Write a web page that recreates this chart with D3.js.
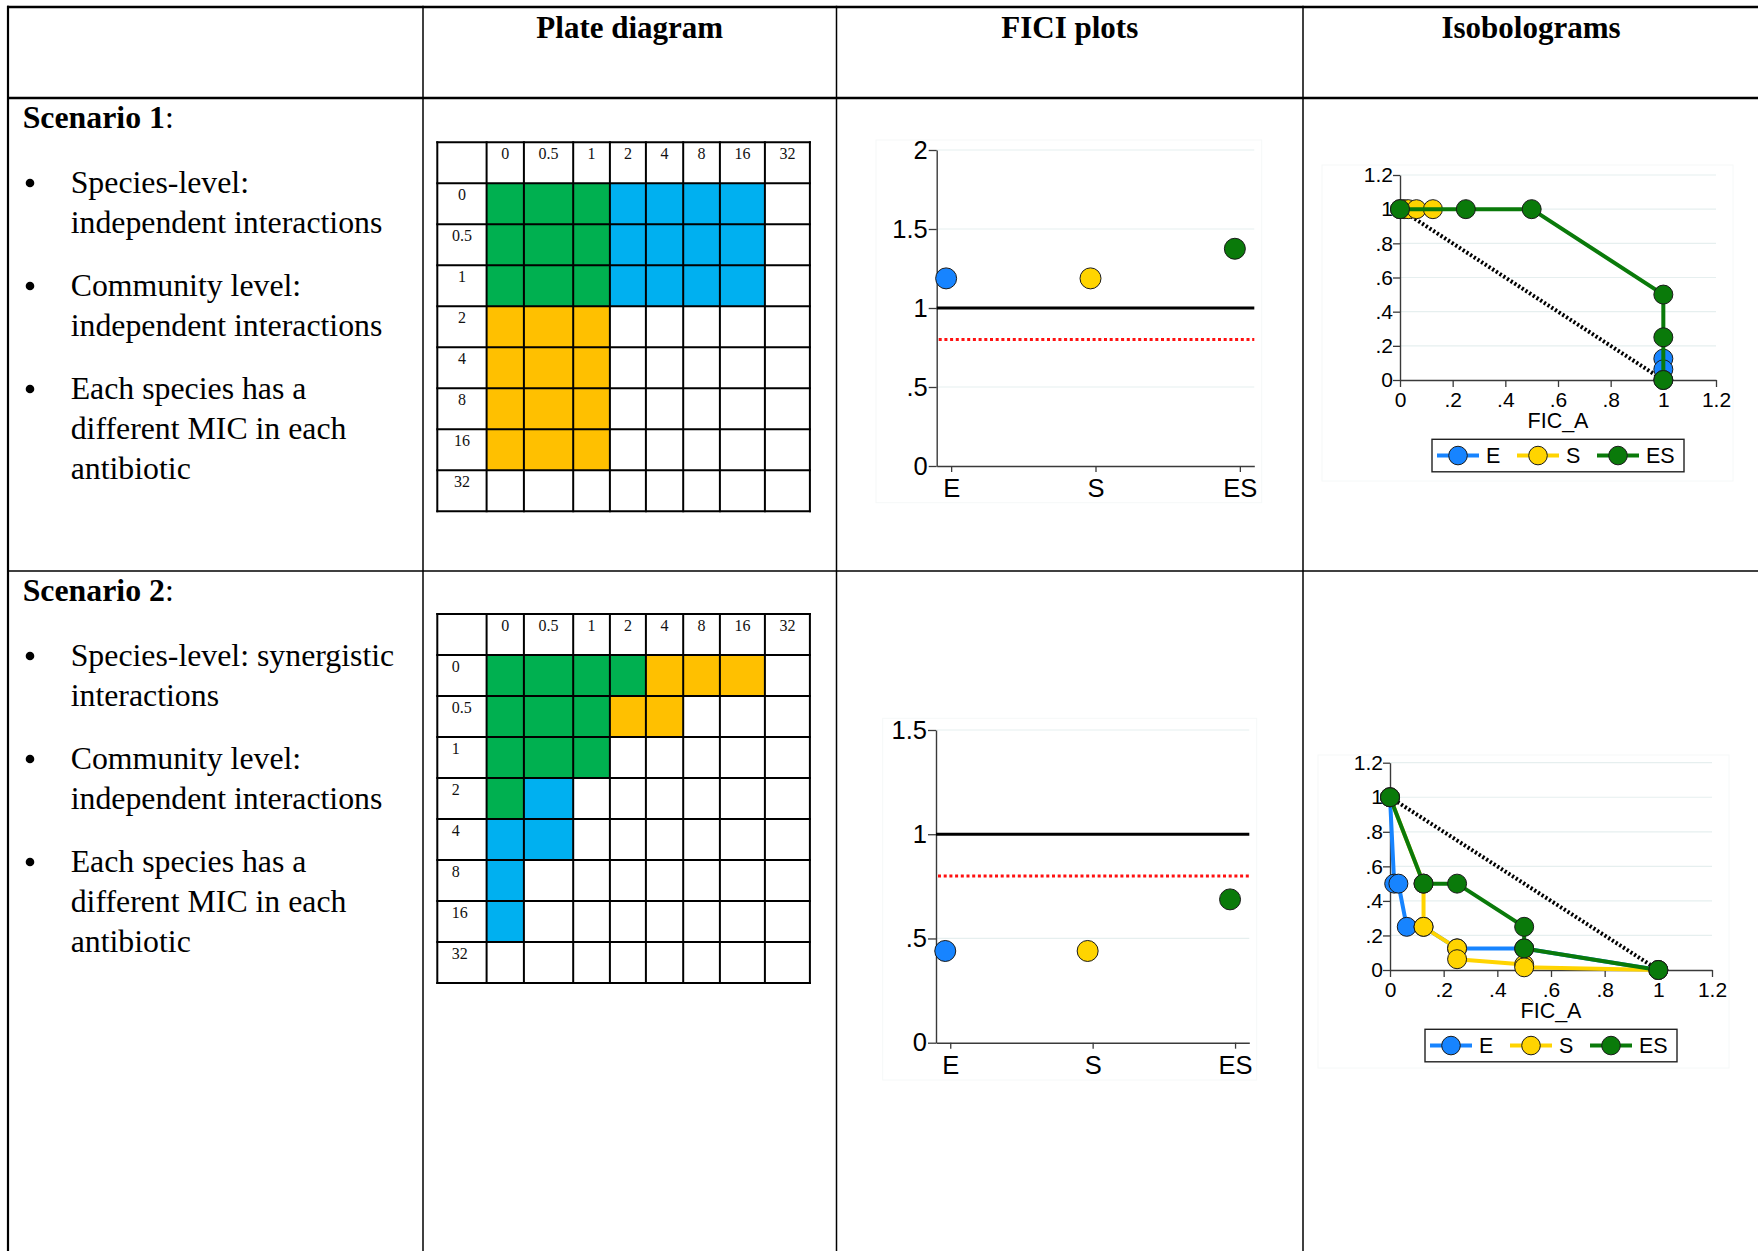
<!DOCTYPE html>
<html>
<head>
<meta charset="utf-8">
<script src="https://cdn.jsdelivr.net/npm/d3@7"></script>
<style>
  html, body { margin: 0; padding: 0; background: #fff; }
  svg { display: block; }
</style>
</head>
<body>
<svg id="fig" width="1758" height="1251"></svg>
<script>
// ---------------- data ----------------
const columnTitles = ["Plate diagram", "FICI plots", "Isobolograms"];
const scenarioTitles = ["Scenario 1", "Scenario 2"];
const scenario1Bullets = [
  ["Species-level:", "independent interactions"],
  ["Community level:", "independent interactions"],
  ["Each species has a", "different MIC in each", "antibiotic"]
];
const scenario2Bullets = [
  ["Species-level: synergistic", "interactions"],
  ["Community level:", "independent interactions"],
  ["Each species has a", "different MIC in each", "antibiotic"]
];

// checkerboard concentrations (columns: antibiotic A, rows: antibiotic B)
const doseLabels = ["0", "0.5", "1", "2", "4", "8", "16", "32"];
// G = both species inhibited (ES), B = E growth only, O = S growth only, . = none
const plateScenario1 = [
  "GGGBBBB.",
  "GGGBBBB.",
  "GGGBBBB.",
  "OOO.....",
  "OOO.....",
  "OOO.....",
  "OOO.....",
  "........"
];
const plateScenario2 = [
  "GGGGOOO.",
  "GGGOO...",
  "GGG.....",
  "GB......",
  "BB......",
  "B.......",
  "B.......",
  "........"
];

// FICI per culture
const speciesGroups = ["E", "S", "ES"];
const ficiScenario1 = [1.1875, 1.1875, 1.375];
const ficiScenario2 = [0.44, 0.44, 0.6875];
const ficiTicks1 = [0, 0.5, 1, 1.5, 2];
const ficiTicks2 = [0, 0.5, 1, 1.5];
const additivityLevel = 1;
const synergyCutoff = 0.8;

// isobolograms: FIC_A (x) vs FIC_B (y)
const isoTicks = [0, 0.2, 0.4, 0.6, 0.8, 1, 1.2];
const iso1E  = { x: [1, 1, 1],                       y: [0.125, 0.0625, 0] };
const iso1S  = { x: [0, 0.015625, 0.03125, 0.0625, 0.125], y: [1, 1, 1, 1, 1] };
const iso1ES = { x: [0, 0.25, 0.5, 1, 1, 1],         y: [1, 1, 1, 0.5, 0.25, 0] };
const iso2E  = { x: [0, 0.015625, 0.03125, 0.0625, 0.125, 0.25, 0.5, 1],
                 y: [1, 0.5, 0.5, 0.25, 0.25, 0.125, 0.125, 0] };
const iso2S  = { x: [0, 0.125, 0.125, 0.25, 0.25, 0.5, 0.5, 1],
                 y: [1, 0.5, 0.25, 0.125, 0.0625, 0.03125, 0.015625, 0] };
const iso2ES = { x: [0, 0.125, 0.25, 0.5, 0.5, 1],   y: [1, 0.5, 0.5, 0.25, 0.125, 0] };

// ---------------- styles ----------------
const SERIF = "'Liberation Serif','Times New Roman',Times,serif";
const SANS = "'Liberation Sans',Arial,Helvetica,sans-serif";
const plateColours = { G: "#00B050", B: "#00B0F0", O: "#FFC000" };
const seriesColours = { E: "#1784FF", S: "#FFD400", ES: "#0A7A0A" };
const gridColour = "#E6EFEF";
const axisColour = "#3a3a3a";

const svg = d3.select("#fig");

// ---------------- table frame ----------------
const colX = [8, 423, 836.5, 1303, 1759];
const rowY = [7, 98, 571, 1262];

const frame = svg.append("g");
frame.selectAll("line.h").data(rowY.slice(0, 3)).join("line")
  .attr("x1", colX[0] - 1).attr("x2", 1758)
  .attr("y1", d => d).attr("y2", d => d)
  .attr("stroke", "#000")
  .attr("stroke-width", (d, i) => i < 2 ? 2.6 : 1.6);
frame.selectAll("line.v").data(colX.slice(0, 4)).join("line")
  .attr("x1", d => d).attr("x2", d => d)
  .attr("y1", rowY[0] - 1.3).attr("y2", 1251)
  .attr("stroke", "#000")
  .attr("stroke-width", (d, i) => i === 0 ? 2.2 : 1.5);

// column headers
svg.append("g").selectAll("text").data(columnTitles).join("text")
  .attr("x", (d, i) => (colX[i + 1] + colX[i + 2]) / 2)
  .attr("y", 38)
  .attr("text-anchor", "middle")
  .attr("font-family", SERIF).attr("font-weight", "bold").attr("font-size", 31)
  .text(d => d);

// ---------------- scenario descriptions ----------------
function drawScenarioText(title, bullets, top) {
  const g = svg.append("g").attr("font-family", SERIF).attr("font-size", 31.8).attr("fill", "#000");
  const head = g.append("text").attr("x", 22.7).attr("y", top + 30);
  head.append("tspan").attr("font-weight", "bold").text(title);
  head.append("tspan").text(":");

  const lineGap = 40.2, bulletGap = 62.8;
  let y = top + 95;
  bullets.forEach((lines, bi) => {
    if (bi > 0) y += bulletGap;
    g.append("circle").attr("cx", 30).attr("cy", y - 10).attr("r", 4.3).attr("fill", "#000");
    lines.forEach((ln, li) => {
      if (li > 0) y += lineGap;
      g.append("text").attr("x", 70.7).attr("y", y).text(ln);
    });
  });
}
drawScenarioText(scenarioTitles[0], scenario1Bullets, rowY[1]);
drawScenarioText(scenarioTitles[1], scenario2Bullets, rowY[2]);

// ---------------- plate diagrams ----------------
const plateColWidths = [49.3, 37.3, 49.3, 36.7, 36, 37.3, 36.7, 45, 45];
const plateRowH = 41;
function drawPlate(fills, left, top, rowLabelAlign) {
  const g = svg.append("g");
  const colEdges = [left];
  plateColWidths.forEach(w => colEdges.push(colEdges[colEdges.length - 1] + w));
  const rowEdges = d3.range(10).map(i => top + i * plateRowH);

  const cells = [];
  fills.forEach((row, r) => row.split("").forEach((code, c) => {
    if (plateColours[code]) cells.push({ r: r + 1, c: c + 1, code });
  }));
  g.selectAll("rect").data(cells).join("rect")
    .attr("x", d => colEdges[d.c]).attr("y", d => rowEdges[d.r])
    .attr("width", d => colEdges[d.c + 1] - colEdges[d.c])
    .attr("height", plateRowH)
    .attr("fill", d => plateColours[d.code]);

  g.selectAll("line.v").data(colEdges).join("line")
    .attr("x1", d => d).attr("x2", d => d)
    .attr("y1", rowEdges[0] - 1).attr("y2", rowEdges[9] + 1)
    .attr("stroke", "#000").attr("stroke-width", 2);
  g.selectAll("line.h").data(rowEdges).join("line")
    .attr("y1", d => d).attr("y2", d => d)
    .attr("x1", colEdges[0] - 1).attr("x2", colEdges[9] + 1)
    .attr("stroke", "#000").attr("stroke-width", 2);

  const txt = g.append("g").attr("font-family", SERIF).attr("font-size", 16).attr("fill", "#111");
  txt.selectAll("text.col").data(doseLabels).join("text")
    .attr("x", (d, i) => (colEdges[i + 1] + colEdges[i + 2]) / 2)
    .attr("y", rowEdges[0] + 17)
    .attr("text-anchor", "middle").text(d => d);
  txt.selectAll("text.row").data(doseLabels).join("text")
    .attr("x", rowLabelAlign === "middle" ? (colEdges[0] + colEdges[1]) / 2 : colEdges[0] + 14.4)
    .attr("y", (d, i) => rowEdges[i + 1] + 17)
    .attr("text-anchor", rowLabelAlign === "middle" ? "middle" : "start")
    .text(d => d);
}
drawPlate(plateScenario1, 437.3, 142.3, "middle");
drawPlate(plateScenario2, 437.3, 614, "start");

// ---------------- shared helpers ----------------
const stataFmt = d => {
  const s = String(+(+d).toFixed(3));
  return s.startsWith("0.") ? s.slice(1) : s;
};
function styleAxis(sel, fontSize) {
  sel.select(".domain").attr("stroke", axisColour).attr("stroke-width", 1.4);
  sel.selectAll(".tick line").attr("stroke", axisColour).attr("stroke-width", 1.3);
  sel.selectAll(".tick text").attr("fill", "#000")
    .attr("font-family", SANS).attr("font-size", fontSize);
}
function softFrame(box) {
  svg.append("rect")
    .attr("x", box[0]).attr("y", box[1])
    .attr("width", box[2] - box[0]).attr("height", box[3] - box[1])
    .attr("fill", "none").attr("stroke", "#F5F8F8").attr("stroke-width", 1);
}

// ---------------- FICI plots ----------------
function drawFici(values, ticks, plot, outer) {
  softFrame(outer);
  const g = svg.append("g");
  const yMax = d3.max(ticks);
  const x = d3.scaleLinear().domain([0.9, 3.1]).range([plot.left, plot.right]);
  const y = d3.scaleLinear().domain([0, yMax]).range([plot.bottom, plot.top]);

  g.selectAll("line.grid").data(ticks.filter(t => t > 0)).join("line")
    .attr("x1", plot.left).attr("x2", plot.right)
    .attr("y1", d => y(d)).attr("y2", d => y(d))
    .attr("stroke", gridColour).attr("stroke-width", 1.2);

  const ya = g.append("g").attr("transform", `translate(${plot.left},0)`)
    .call(d3.axisLeft(y).tickValues(ticks).tickSize(8).tickSizeOuter(0).tickPadding(1).tickFormat(stataFmt));
  styleAxis(ya, 25.5);
  const xa = g.append("g").attr("transform", `translate(0,${plot.bottom})`)
    .call(d3.axisBottom(x).tickValues([1, 2, 3]).tickSize(6).tickSizeOuter(0).tickPadding(7)
      .tickFormat(d => speciesGroups[d - 1]));
  styleAxis(xa, 25.5);

  // additivity line and synergy threshold
  g.append("line")
    .attr("x1", plot.left).attr("x2", plot.right)
    .attr("y1", y(additivityLevel)).attr("y2", y(additivityLevel))
    .attr("stroke", "#000").attr("stroke-width", 3.2);
  g.append("line")
    .attr("x1", plot.left + 2).attr("x2", plot.right)
    .attr("y1", y(synergyCutoff)).attr("y2", y(synergyCutoff))
    .attr("stroke", "#FF1010").attr("stroke-width", 3).attr("stroke-dasharray", "3 2.7");

  const dodge = 5;
  g.selectAll("circle").data(values).join("circle")
    .attr("cx", (d, i) => x(i + 1) - dodge)
    .attr("cy", d => y(d))
    .attr("r", 10.5)
    .attr("fill", (d, i) => seriesColours[speciesGroups[i]])
    .attr("stroke", "#1a1a1a").attr("stroke-width", 1);
}
drawFici(ficiScenario1, ficiTicks1,
  { left: 936.7, right: 1254.3, bottom: 466, top: 150 }, [876, 140, 1261.7, 502.7]);
drawFici(ficiScenario2, ficiTicks2,
  { left: 936, right: 1249.3, bottom: 1042.7, top: 730 }, [882.7, 718.3, 1256.7, 1080]);

// ---------------- isobolograms ----------------
function drawIsobologram(series, plot, outer) {
  softFrame(outer);
  const g = svg.append("g");
  const x = d3.scaleLinear().domain([0, 1.2]).range([plot.left, plot.right]);
  const y = d3.scaleLinear().domain([0, 1.2]).range([plot.bottom, plot.top]);

  g.selectAll("line.grid").data(isoTicks.filter(t => t > 0)).join("line")
    .attr("x1", plot.left).attr("x2", plot.right)
    .attr("y1", d => y(d)).attr("y2", d => y(d))
    .attr("stroke", gridColour).attr("stroke-width", 1.2);

  const ya = g.append("g").attr("transform", `translate(${plot.left},0)`)
    .call(d3.axisLeft(y).tickValues(isoTicks).tickSize(7).tickSizeOuter(0).tickPadding(0).tickFormat(stataFmt));
  styleAxis(ya, 21);
  const xa = g.append("g").attr("transform", `translate(0,${plot.bottom})`)
    .call(d3.axisBottom(x).tickValues(isoTicks).tickSize(7).tickSizeOuter(0).tickPadding(5).tickFormat(stataFmt));
  styleAxis(xa, 21);

  g.append("text")
    .attr("x", (plot.left + plot.right) / 2).attr("y", plot.bottom + 48.3)
    .attr("text-anchor", "middle").attr("font-family", SANS).attr("font-size", 21.5)
    .text("FIC_A");

  // line of additivity
  g.append("line")
    .attr("x1", x(0)).attr("y1", y(1)).attr("x2", x(1)).attr("y2", y(0))
    .attr("stroke", "#000").attr("stroke-width", 4).attr("stroke-dasharray", "2.2 2.2");

  const line = d3.line().x(d => x(d[0])).y(d => y(d[1]));
  series.forEach(s => {
    const pts = s.data.x.map((v, i) => [v, s.data.y[i]]);
    g.append("path").datum(pts).attr("d", line)
      .attr("fill", "none").attr("stroke", seriesColours[s.key])
      .attr("stroke-width", 4).attr("stroke-linejoin", "round");
    g.append("g").selectAll("circle").data(pts).join("circle")
      .attr("cx", d => x(d[0])).attr("cy", d => y(d[1])).attr("r", 9.5)
      .attr("fill", seriesColours[s.key])
      .attr("stroke", "#1a1a1a").attr("stroke-width", 1);
  });

  // legend
  const lw = 252, lh = 32.5;
  const lx = (plot.left + plot.right) / 2 - lw / 2, ly = plot.bottom + 59.3;
  const leg = g.append("g").attr("transform", `translate(${lx},${ly})`);
  leg.append("rect").attr("width", lw).attr("height", lh)
    .attr("fill", "#fff").attr("stroke", "#222").attr("stroke-width", 1.4);
  const item = leg.selectAll("g.item").data(speciesGroups).join("g")
    .attr("transform", (d, i) => `translate(${5 + i * 80},0)`);
  item.append("line").attr("x1", 0).attr("x2", 42).attr("y1", lh / 2).attr("y2", lh / 2)
    .attr("stroke", d => seriesColours[d]).attr("stroke-width", 4);
  item.append("circle").attr("cx", 21).attr("cy", lh / 2).attr("r", 9.3)
    .attr("fill", d => seriesColours[d]).attr("stroke", "#1a1a1a").attr("stroke-width", 1);
  item.append("text").attr("x", 49).attr("y", 24)
    .attr("font-family", SANS).attr("font-size", 21.5).text(d => d);
}
drawIsobologram(
  [{ key: "E", data: iso1E }, { key: "S", data: iso1S }, { key: "ES", data: iso1ES }],
  { left: 1400, right: 1716, bottom: 380, top: 175 }, [1322, 165, 1733, 481]);
drawIsobologram(
  [{ key: "E", data: iso2E }, { key: "S", data: iso2S }, { key: "ES", data: iso2ES }],
  { left: 1390, right: 1712, bottom: 970, top: 762.7 }, [1318, 755, 1729, 1068]);
</script>
</body>
</html>
